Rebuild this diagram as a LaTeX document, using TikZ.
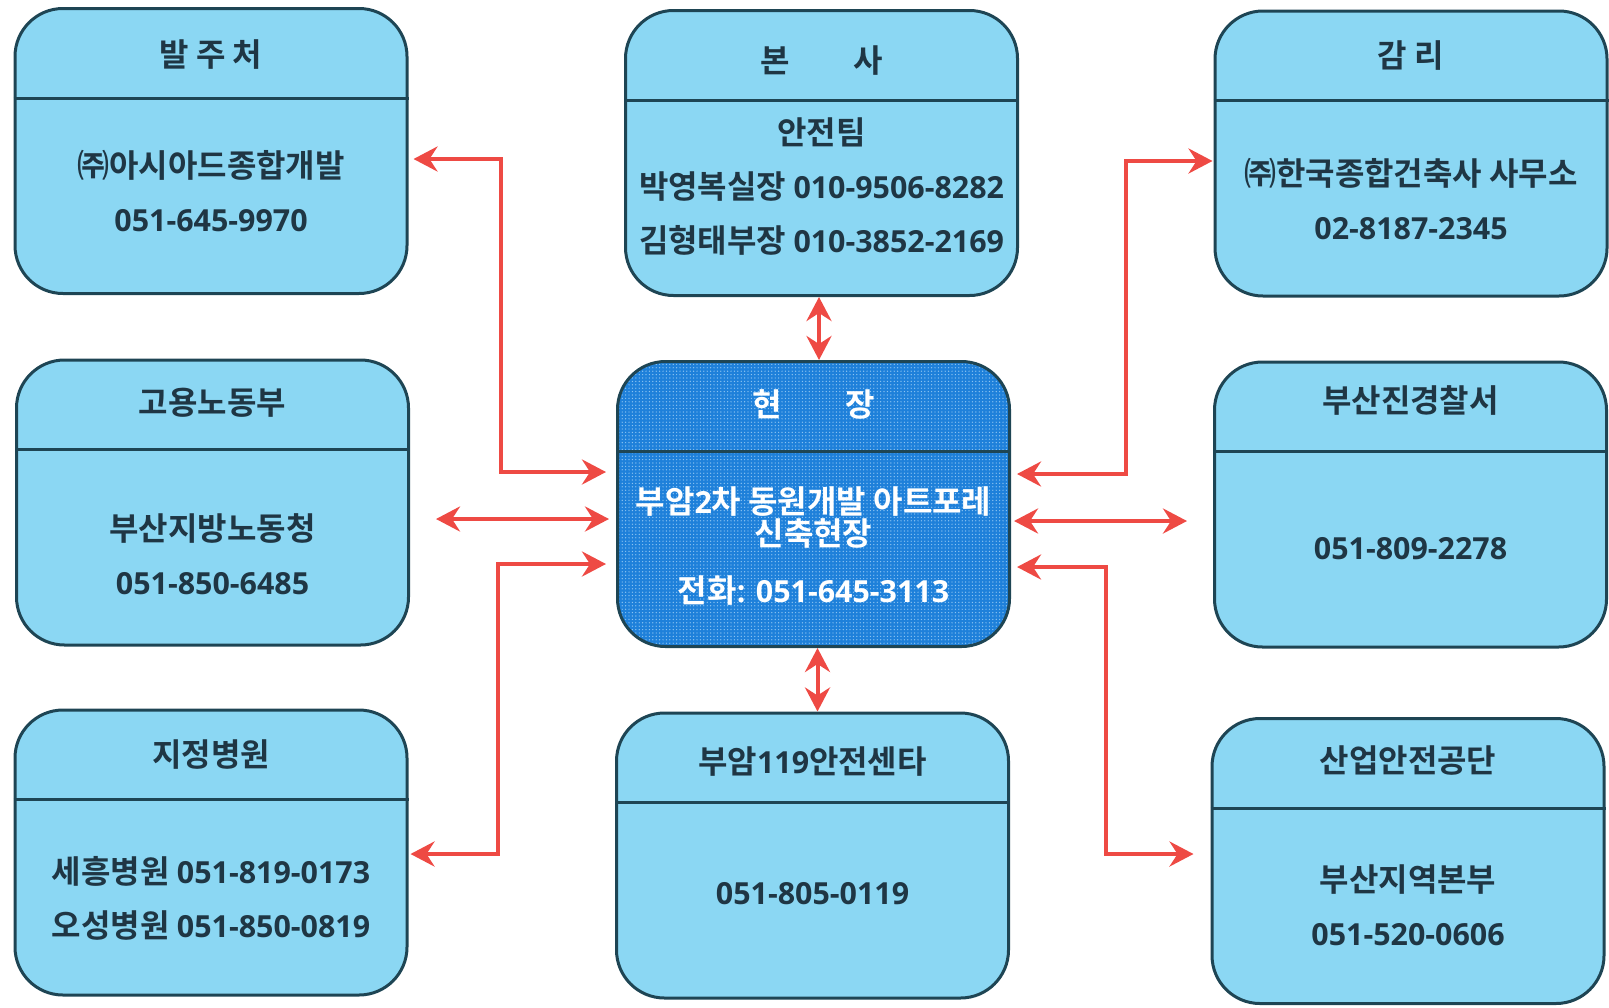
\documentclass[tikz,border=0pt]{standalone}
\usepackage{fontspec}
\setmainfont{Noto Sans CJK KR}[BoldFont={Noto Sans CJK KR Bold}]
\newfontfamily\telfont{Open Sans}[Scale=0.95]
\usetikzlibrary{arrows.meta}
\usetikzlibrary{patterns.meta}
\usetikzlibrary{positioning}

\definecolor{boxfill}{HTML}{8BD7F3}
\definecolor{boxline}{HTML}{1E4554}
\definecolor{ink}{HTML}{1F3644}
\definecolor{sitefill}{HTML}{1E80DA}
\definecolor{sitedot}{HTML}{8CC4F2}
\definecolor{linkred}{HTML}{EE4A44}

\tikzdeclarepattern{
  name=sitedots,
  type=uncolored,
  bottom left={(-1pt,-1pt)},
  top right={(1pt,1pt)},
  tile size={(1.7pt,1.7pt)},
  code={\fill (0pt,0pt) circle (0.35pt);}
}

\newcommand{\tel}[1]{{\telfont #1}}

\begin{document}
\begin{tikzpicture}[x=0.5pt, y=-0.5pt,
    frame/.style={draw=boxline, line width=1.5pt, rounded corners=24pt,
      minimum width=196pt, minimum height=142.5pt, inner sep=0pt},
    box/.style={frame, fill=boxfill},
    site/.style={frame, preaction={fill=sitefill}, pattern=sitedots, pattern color=sitedot},
    divider/.style={draw=boxline, line width=1.5pt},
    title/.style={text=ink, font=\bfseries\fontsize{16}{18}\selectfont},
    body/.style={text=ink, align=center, font=\bfseries\fontsize{16}{27}\selectfont},
    link/.style={draw=linkred, line width=2pt, <->, >={Stealth[length=12pt,width=12.5pt,inset=4pt]}}]
  \useasboundingbox (0,0) rectangle (1609,1007);

  % boxes
  \node[box] (client) at (211,151) {};
  \node[box] (hq) at (821.5,153) {};
  \node[box] (superv) at (1411,153.5) {};
  \node[box] (labor) at (212.5,502.5) {};
  \node[site] (site) at (813.5,504) {};
  \node[box] (police) at (1410.5,504.5) {};
  \node[box] (hospital) at (211,852.5) {};
  \node[box] (fire) at (812.5,855.5) {};
  \node[box] (kosha) at (1408,861) {};

  \foreach \b in {client,hq,superv,labor,site,police,hospital,fire,kosha}
    \draw[divider] ([yshift=-45.5pt]\b.north west) -- ([yshift=-45.5pt]\b.north east);

  % titles
  \node[title] (client-t) at ([yshift=-24pt]client.north) {발 주 처};
  \node[title] (hq-t) at ([yshift=-26pt]hq.north) {본\hspace{2em}사};
  \node[title] (superv-t) at ([yshift=-23pt]superv.north) {감 리};
  \node[title] (labor-t) at ([yshift=-22pt]labor.north) {고용노동부};
  \node[title, text=white] (site-t) at ([yshift=-22pt]site.north) {현\hspace{2em}장};
  \node[title] (police-t) at ([yshift=-20pt]police.north) {부산진경찰서};
  \node[title] (hospital-t) at ([yshift=-23pt]hospital.north) {지정병원};
  \node[title] (fire-t) at ([yshift=-25pt]fire.north) {부암\tel{119}안전센타};
  \node[title] (kosha-t) at ([yshift=-22pt]kosha.north) {산업안전공단};

  % contents
  \node[body] (client-b) at ([yshift=-20pt]client.center) {㈜아시아드종합개발\\ \tel{051-645-9970}};
  \node[body] (hq-b) at ([yshift=-17pt]hq.center) {안전팀\\ 박영복실장 \tel{010-9506-8282}\\ 김형태부장 \tel{010-3852-2169}};
  \node[body] (superv-b) at ([yshift=-23pt]superv.center) {㈜한국종합건축사 사무소\\ \tel{02-8187-2345}};
  \node[body] (labor-b) at ([yshift=-26pt]labor.center) {부산지방노동청\\ \tel{051-850-6485}};
  \node[body, text=white, font=\bfseries\fontsize{16}{16}\selectfont] (site-b) at ([yshift=-21pt]site.center)
    {부암\tel{2}차 동원개발 아트포레\\ 신축현장\\[12.5pt] 전화\tel{: 051-645-3113}};
  \node[body] (police-b) at ([yshift=-22pt]police.center) {\tel{051-809-2278}};
  \node[body] (hospital-b) at ([yshift=-23pt]hospital.center) {세흥병원 \tel{051-819-0173}\\ 오성병원 \tel{051-850-0819}};
  \node[body] (fire-b) at ([yshift=-19pt]fire.center) {\tel{051-805-0119}};
  \node[body] (kosha-b) at ([yshift=-22pt]kosha.center) {부산지역본부\\ \tel{051-520-0606}};

  % connections
  \draw[link] ([shift={(5,8)}]client.east) -- (501,159) -- (501,472) -- ([shift={(-10,-32)}]site.west);
  \draw[link] ([shift={(26,16.5)}]labor.east) -- ([shift={(-7,15)}]site.west);
  \draw[link] ([shift={(2,1.5)}]hospital.east) -- (498,854) -- (498,564) -- ([shift={(-10,60)}]site.west);
  \draw[link] ([xshift=-1.25pt]hq.south) -- ([xshift=-1.25pt]hq.south |- site.north);
  \draw[link] ([xshift=2pt]site.south) -- ([xshift=2pt]site.south |- fire.north);
  \draw[link] ([shift={(6,-30)}]site.east) -- (1126,474) -- (1126,161) -- ([shift={(-1,7.5)}]superv.west);
  \draw[link] ([shift={(3,17)}]site.east) -- ([shift={(-26,16.5)}]police.west);
  \draw[link] ([shift={(6,63)}]site.east) -- (1106,567) -- (1106,854) -- ([shift={(-17,-7)}]kosha.west);
\end{tikzpicture}
\end{document}
